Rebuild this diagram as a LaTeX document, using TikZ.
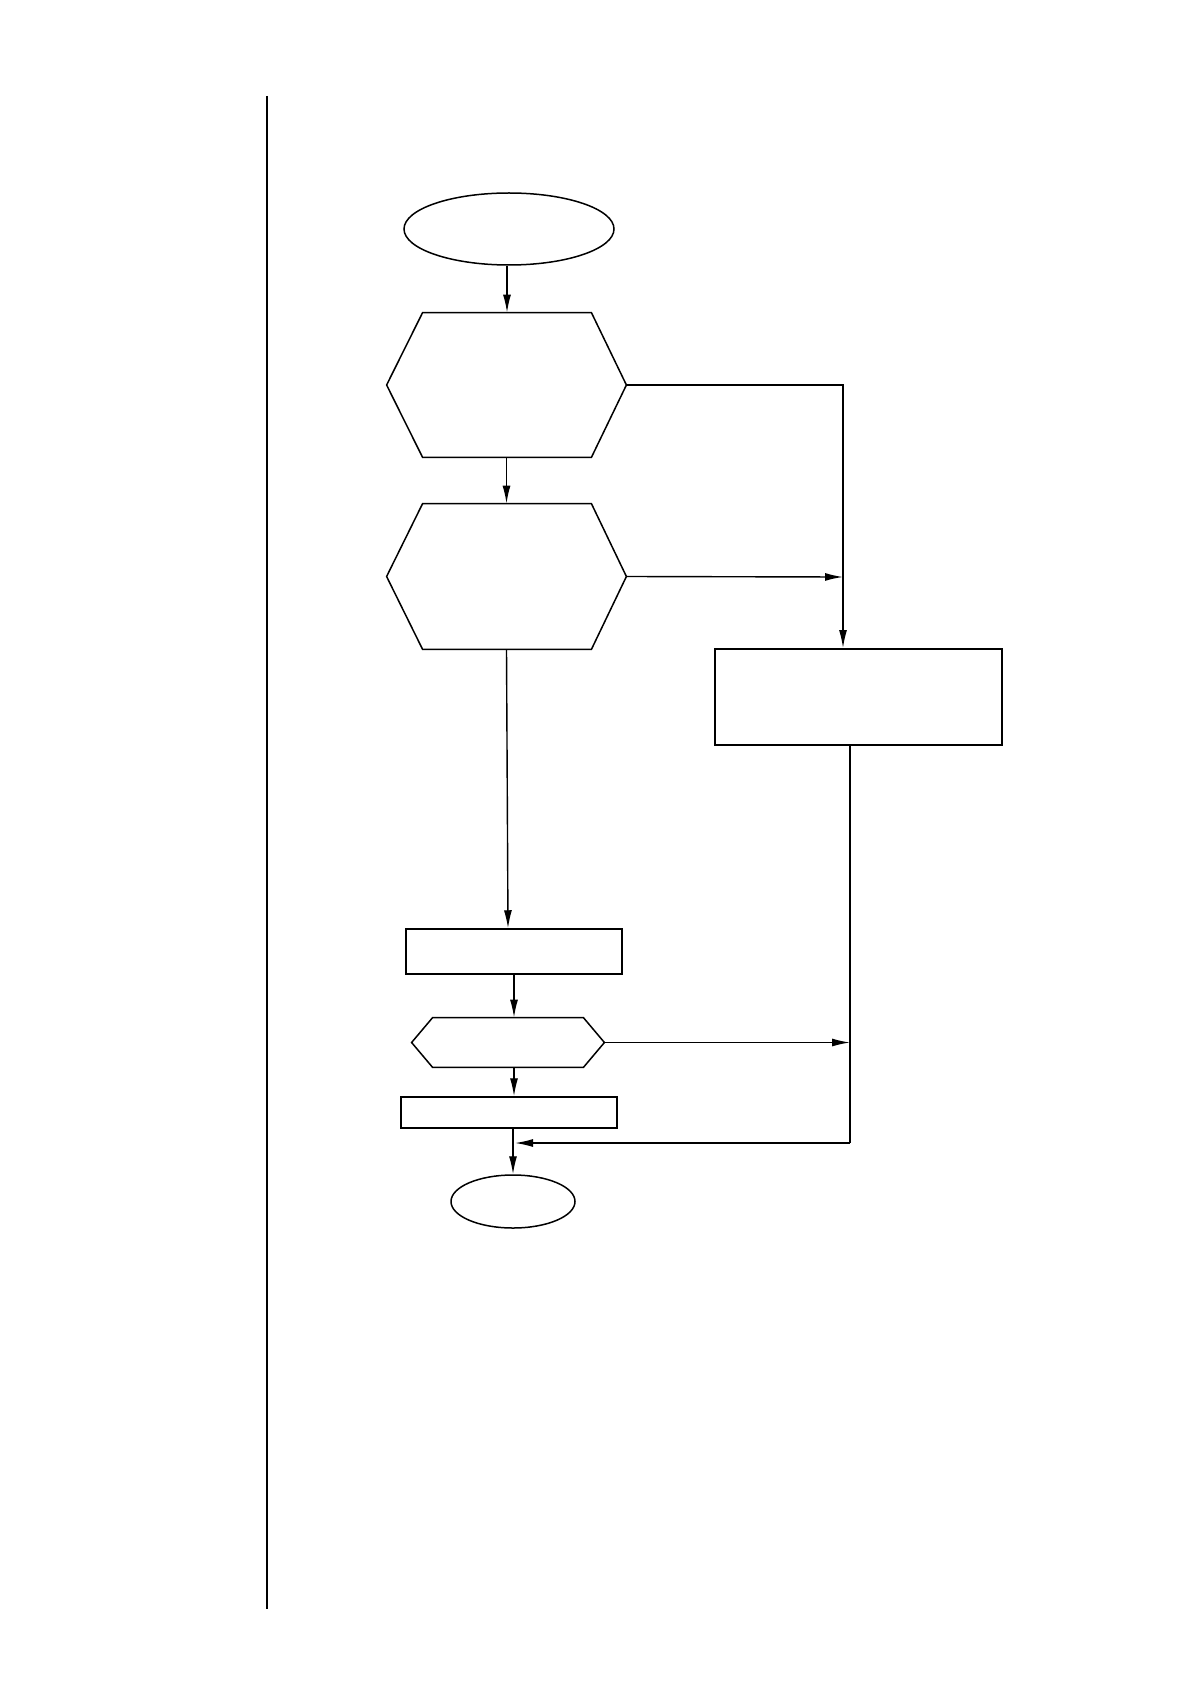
\documentclass[tikz,border=0pt]{standalone}
\usetikzlibrary{shapes.geometric,arrows.meta}
\tikzset{
  px/.style={x=0.5pt,y=-0.5pt},
  box/.style={draw,line width=0.75pt,rectangle,inner sep=0pt},
  boldbox/.style={draw,line width=1pt,rectangle,inner sep=0pt},
  hexhold/.style={draw=none,rectangle,inner sep=0pt},
  hexline/.style={draw,line width=0.75pt,line join=miter},
  term/.style={draw,line width=0.75pt,ellipse,inner sep=0pt},
  arr/.style={line width=0.7pt,-{Latex[length=9pt,width=4pt]}},
}
\begin{document}
\begin{tikzpicture}[px]
\useasboundingbox (0,0) rectangle (1190,1684);
\fill[white] (0,0) rectangle (1190,1684);
% left margin rule
\coordinate (ltop) at (267,96);
\coordinate (lbot) at (267,1609);
\draw[line width=0.9pt] (ltop) -- (lbot);

% nodes
\node[term,minimum width=105pt,minimum height=36pt] (start) at (509,229) {};
\node[hexhold,minimum width=119.5pt,minimum height=72pt] (h1) at (506.5,385) {};
\node[hexhold,minimum width=119.5pt,minimum height=72.5pt] (h2) at (506.5,576.5) {};
\node[boldbox,minimum width=143.5pt,minimum height=48pt] (big) at (858.5,697) {};
\node[box,minimum width=108pt,minimum height=22.5pt] (r2) at (514,951.5) {};
\node[hexhold,minimum width=96pt,minimum height=24.5pt] (h3) at (508,1042.5) {};
\node[box,minimum width=108pt,minimum height=15.5pt] (r3) at (509,1112.5) {};
\node[term,minimum width=62pt,minimum height=26.5pt] (end) at (513,1201.5) {};

% hexagon outlines
\draw[hexline] (h1.west) -- ([xshift=18pt]h1.north west) -- ([xshift=-17.5pt]h1.north east)
  -- (h1.east) -- ([xshift=-17.5pt]h1.south east) -- ([xshift=18pt]h1.south west) -- cycle;
\draw[hexline] (h2.west) -- ([xshift=18pt]h2.north west) -- ([xshift=-17.5pt]h2.north east)
  -- (h2.east) -- ([xshift=-17.5pt]h2.south east) -- ([xshift=18pt]h2.south west) -- cycle;
\draw[hexline] (h3.west) -- ([xshift=10.5pt]h3.north west) -- ([xshift=-10.5pt]h3.north east)
  -- (h3.east) -- ([xshift=-10.5pt]h3.south east) -- ([xshift=10.5pt]h3.south west) -- cycle;

% junction coordinates
\coordinate (jx) at (843,577);
\coordinate (jy) at (850,1042.5);
\coordinate (jb) at (850,1143);
\coordinate (jm) at (515,1143);

% connectors
\draw[arr] ([xshift=-1pt]start.south) -- ([xshift=-1pt]start.south |- h1.north);
\draw[arr] (h1.south) -- (h1.south |- h2.north);
\draw[arr] (h1.east) -| (jx |- big.north);
\draw[arr] (h2.east) -- (jx);
\draw[arr] (h2.south) -- ([xshift=-3pt]r2.north);
\draw[arr] (r2.south) -- (r2.south |- h3.north);
\draw[arr] ([xshift=3pt]h3.south) -- ([xshift=3pt]h3.south |- r3.north);
\draw[arr] (h3.east) -- (jy);
\draw[line width=1pt] (big.south -| jb) -- (jb);
\draw[arr] (jb) -- (jm);
\draw[arr] (r3.south -| end.north) -- (end.north);
\end{tikzpicture}
\end{document}
